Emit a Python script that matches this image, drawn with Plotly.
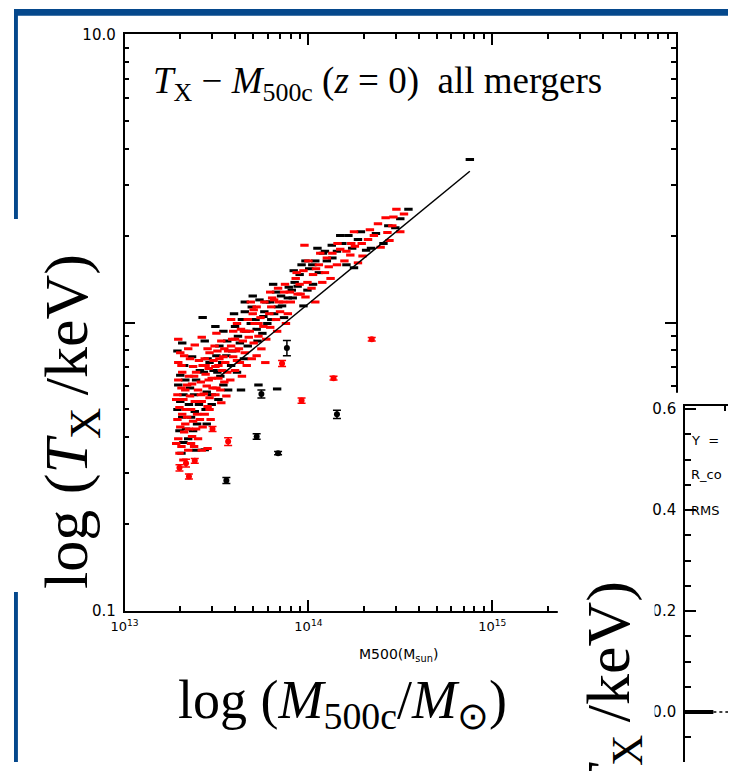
import plotly.graph_objects as go

# ---------------- data (mass in units of 1e13 Msun, temperature in keV) ----------------
red_M = [1.96, 2.01, 1.96, 2.06, 1.96, 2.04, 1.94, 2.09, 1.99, 2.06, 1.94, 2.01, 2.11, 1.96, 2.04, 1.99,
         2.14, 2.16, 2.14, 2.22, 2.41, 2.27, 2.36, 2.24, 2.45, 2.33, 2.51, 2.27, 2.41, 2.30, 2.48, 2.36,
         2.24, 2.45, 2.33, 2.51, 2.30, 2.22, 2.63, 2.83, 2.73, 2.90, 2.66, 2.87, 2.76, 2.98, 2.60, 2.80,
         3.01, 2.70, 2.90, 2.63, 2.83, 2.73, 2.94, 2.66, 2.63, 2.83, 3.16, 3.36, 3.20, 3.49, 3.28, 3.53,
         3.12, 3.40, 3.62, 3.24, 3.49, 3.32, 3.12, 3.58, 3.36, 3.80, 4.09, 3.90, 4.30, 3.99, 4.40, 3.80,
         4.19, 4.51, 3.90, 4.24, 4.62, 3.99, 4.35, 3.76, 4.86, 5.23, 4.98, 5.49, 5.10, 5.69, 4.80, 5.35,
         5.90, 5.04, 5.55, 5.23, 5.83, 4.92, 6.20, 6.84, 6.51, 7.28, 6.28, 7.01, 7.73, 6.67, 7.55, 6.20,
         8.02, 7.37, 6.76, 8.53, 9.40, 8.96, 9.88, 10.6, 8.74, 9.64, 10.4, 10.9, 9.52, 11.4, 12.6, 12.3,
         13.5, 14.3, 14.9, 15.7, 11.9, 13.2, 17.1, 17.9, 18.6, 19.7, 21.1, 22.7, 16.9, 27.6, 30.1, 28.6,
         26.9, 31.6, 24.7,
         1.91, 2.04, 2.11, 2.19, 2.39, 2.54, 2.60, 2.76, 2.87, 3.05, 3.09, 3.24, 3.45, 3.66, 3.85, 4.04,
         4.46, 4.68, 5.04, 5.35, 5.76, 6.13, 6.35, 6.92, 7.46, 7.92, 8.63, 9.07, 10.0, 11.0, 11.6, 12.9,
         14.4, 16.1, 17.7, 19.5, 21.6, 23.9, 26.3, 29.0, 33.1, 2.09, 1.91, 2.19, 2.39, 2.57, 2.90, 3.16,
         4.09, 4.74]
red_T = [0.875, 0.785, 0.726, 0.672, 0.631, 0.593, 0.561, 0.540, 0.507, 0.480, 0.461, 0.434, 0.417, 0.395, 0.371, 0.352,
         0.444, 0.499, 0.583, 0.810, 0.836, 0.749, 0.704, 0.651, 0.672, 0.612, 0.583, 0.556, 0.532, 0.499, 0.480, 0.454,
         0.427, 0.427, 0.402, 0.395, 0.380, 0.360, 0.889, 0.810, 0.749, 0.785, 0.709, 0.693, 0.661, 0.641, 0.621, 0.602,
         0.593, 0.565, 0.548, 0.532, 0.511, 0.480, 0.461, 0.434, 0.360, 0.365, 0.917, 0.862, 0.797, 0.810, 0.749, 0.726,
         0.704, 0.682, 0.672, 0.641, 0.621, 0.583, 0.561, 0.556, 0.527, 1.024, 0.992, 0.932, 0.947, 0.875, 0.862, 0.829,
         0.810, 0.785, 0.761, 0.726, 0.709, 0.682, 0.651, 0.631, 1.178, 1.133, 1.073, 1.040, 0.992, 0.969, 0.932, 0.896,
         0.875, 0.849, 0.810, 0.767, 0.726, 0.749, 1.275, 1.315, 1.198, 1.178, 1.133, 1.090, 1.073, 1.024, 0.992, 0.962,
         1.178, 1.275, 0.932, 1.422, 1.513, 1.357, 1.378, 1.467, 1.255, 1.226, 1.315, 1.178, 1.853, 1.586, 1.675, 1.490,
         1.741, 1.586, 1.796, 1.636, 1.378, 1.422, 1.882, 1.838, 1.611, 1.701, 1.942, 2.004, 1.714, 1.926, 2.473, 2.166,
         2.051, 2.067, 1.824,
         0.540, 0.709, 0.767, 0.607, 0.651, 0.738, 0.561, 0.709, 0.631, 0.738, 0.829, 0.709, 0.761, 0.797, 0.875, 0.797,
         0.932, 1.024, 1.107, 0.992, 1.178, 1.073, 1.217, 1.178, 1.357, 1.275, 1.490, 1.255, 1.636, 1.537, 1.741, 1.561,
         1.882, 1.768, 2.067, 1.882, 2.099, 2.200, 2.308, 2.324, 2.380, 0.333, 0.380, 0.469, 0.371, 0.461, 0.499, 0.593,
         0.738, 0.889]

red_err_M = [22.1, 13.7, 9.18, 7.19, 3.66, 1.99, 2.16, 2.41, 2.24, 3.01]
red_err_T = [0.875, 0.641, 0.536, 0.721, 0.386, 0.313, 0.325, 0.331, 0.292, 0.427]
red_err = [0.012, 0.010, 0.011, 0.017, 0.012, 0.008, 0.010, 0.0065, 0.0057, 0.0083]

black_M = [2.06, 2.01, 1.96, 2.09, 2.01, 1.94, 2.06, 1.99, 2.09, 2.14, 2.33, 2.45, 2.27, 2.39, 2.54, 2.30,
           2.48, 2.36, 2.22, 2.66, 2.73, 2.90, 2.70, 3.05, 2.80, 2.98, 2.76, 2.73, 3.12, 3.45, 3.28, 3.58,
           3.20, 3.45, 3.66, 3.24, 3.94, 4.35, 4.14, 4.57, 3.85, 4.46, 4.09, 4.68, 3.80, 4.30, 4.98, 5.42,
           5.76, 5.16, 4.86, 5.98, 5.29, 5.62, 5.35, 6.43, 7.10, 7.73, 6.20, 6.84, 8.12, 7.37, 6.51, 6.76,
           8.32, 9.18, 10.1, 10.9, 8.74, 9.88, 8.22, 9.40, 10.6, 11.4, 12.6, 14.3, 15.3, 12.0, 16.1, 13.4,
           16.5, 19.3, 20.6, 17.7, 21.9, 25.6, 35.0, 29.7, 75.5,
           1.94, 2.11, 2.24, 2.41, 2.57, 2.83, 2.98, 3.16, 3.40, 3.62, 3.99, 4.24, 4.51, 4.92, 5.23, 5.69,
           5.90, 6.28, 6.67, 7.19, 7.82, 8.42, 8.96, 9.64, 10.5, 11.2, 12.3, 13.5, 14.9, 17.3, 18.6, 23.3,
           27.2, 31.6, 2.16, 2.45, 2.04, 2.80, 3.32, 4.51]
black_T = [0.849, 0.656, 0.607, 0.561, 0.532, 0.499, 0.469, 0.421, 0.383, 0.631, 0.761, 0.631, 0.593, 0.561, 0.519, 0.469,
           0.444, 0.421, 0.395, 1.040, 0.862, 0.726, 0.672, 0.682, 0.574, 0.519, 0.499, 0.362, 0.969, 0.932, 0.829, 0.767,
           0.672, 0.607, 0.583, 0.540, 1.073, 1.024, 0.896, 0.932, 0.797, 0.749, 0.672, 0.829, 0.709, 0.583, 1.236, 1.198,
           1.090, 1.024, 0.992, 0.992, 0.862, 0.917, 0.607, 1.357, 1.236, 1.217, 1.178, 1.133, 1.295, 1.040, 1.073, 0.588,
           1.513, 1.586, 1.537, 1.636, 1.336, 1.295, 1.217, 1.142, 1.357, 1.490, 1.636, 1.768, 1.882, 1.741, 1.586, 1.853,
           2.004, 2.067, 1.782, 1.549, 1.810, 1.882, 2.473, 2.132, 3.68,
           0.797, 0.709, 0.519, 0.491, 0.682, 0.749, 0.561, 0.767, 0.726, 0.862, 0.969, 0.849, 1.090, 1.133, 0.947, 1.049,
           1.178, 1.024, 1.275, 1.142, 1.326, 1.378, 1.467, 1.636, 1.586, 1.810, 1.768, 1.675, 2.004, 1.810, 1.942, 2.035,
           2.166, 2.290, 0.427, 0.360, 0.352, 0.444, 0.651, 1.178]

black_err_M = [7.64, 5.55, 14.3, 5.23, 6.84, 3.58]
black_err_T = [0.816, 0.565, 0.480, 0.402, 0.352, 0.283]
black_err = [0.050, 0.018, 0.016, 0.0088, 0.0047, 0.0067]

fit_M = [3.3, 75.5]
fit_T = [0.65, 3.35]

# tick values / labels
x_major = [1, 10, 100, 1000]
x_labels = ["10<sup>13</sup>", "10<sup>14</sup>", "10<sup>15</sup>", " "]
y_major = [0.1, 1, 10]
y_labels = ["0.1", " ", "10.0"]
x_minor = [k * 10 ** e for e in (0, 1, 2) for k in range(2, 10)]
y_minor = [k * 10 ** e for e in (-1, 0) for k in range(2, 10)]

# inset (second, partly hidden panel)
inset_thick_x = [0.0, 0.66]
inset_thick_y = [0.0, 0.0]
inset_dot_x = [0.66, 1.0]
inset_dot_y = [0.0, 0.0]
inset_y_ticks = [0.0, 0.2, 0.4, 0.6]
inset_y_labels = ["0.0", "0.2", "0.4", "0.6"]

W, H = 730, 771
RED = "#ff0000"
BLUE = "#05488c"
SERIF = "Liberation Serif"
SANS = "DejaVu Sans"


def px(v):
    return v / W


def py(v):
    return (H - v) / H


fig = go.Figure()

dash_marker = dict(symbol="line-ew", size=6)
fig.add_trace(go.Scatter(x=black_M, y=black_T, mode="markers",
                         marker=dict(**dash_marker, line=dict(color="black", width=3)),
                         showlegend=False, hoverinfo="skip"))
fig.add_trace(go.Scatter(x=red_M, y=red_T, mode="markers",
                         marker=dict(**dash_marker, line=dict(color=RED, width=3)),
                         showlegend=False, hoverinfo="skip"))
fig.add_trace(go.Scatter(x=black_err_M, y=black_err_T, mode="markers",
                         marker=dict(size=0, color="black"),
                         error_y=dict(type="data", array=black_err, width=4, thickness=1.5, color="black"),
                         showlegend=False, hoverinfo="skip"))
fig.add_trace(go.Scatter(x=red_err_M, y=red_err_T, mode="markers",
                         marker=dict(size=0, color=RED),
                         error_y=dict(type="data", array=red_err, width=4, thickness=1.5, color=RED),
                         showlegend=False, hoverinfo="skip"))
fig.add_trace(go.Scatter(x=fit_M, y=fit_T, mode="lines", line=dict(color="black", width=1.5),
                         showlegend=False, hoverinfo="skip"))

# cover panel (white) for the overlapping second figure
fig.add_trace(go.Scatter(x=[0.5], y=[0.5], mode="markers", marker=dict(opacity=0),
                         xaxis="x2", yaxis="y2", showlegend=False, hoverinfo="skip"))
# inset panel
fig.add_trace(go.Scatter(x=inset_thick_x, y=inset_thick_y, mode="lines",
                         line=dict(color="black", width=4), xaxis="x3", yaxis="y3",
                         showlegend=False, hoverinfo="skip"))
fig.add_trace(go.Scatter(x=inset_dot_x, y=inset_dot_y, mode="lines",
                         line=dict(color="black", width=1.5, dash="dot"), xaxis="x3", yaxis="y3",
                         showlegend=False, hoverinfo="skip"))

axis_common = dict(showline=True, linecolor="black", linewidth=1.5, showgrid=False, zeroline=False,
                   ticks="inside", tickcolor="black", tickwidth=1.5, ticklen=11)

fig.update_layout(
    width=W, height=H,
    margin=dict(l=0, r=0, t=0, b=0),
    paper_bgcolor="white", plot_bgcolor="white",
    xaxis=dict(**axis_common, type="log", range=[0, 3], domain=[px(113), px(677)], anchor="y",
               mirror="allticks", tickmode="array", tickvals=x_major, ticktext=x_labels,
               ticklabelstandoff=3,
               tickfont=dict(family=SANS, size=13, color="black"),
               minor=dict(ticks="inside", ticklen=5, tickwidth=1.5, tickcolor="black",
                          tickmode="array", tickvals=x_minor, showgrid=False)),
    yaxis=dict(**axis_common, type="log", range=[-1, 1], domain=[py(616), py(26)], anchor="x",
               mirror="allticks", tickmode="array", tickvals=y_major, ticktext=y_labels,
               ticklabelstandoff=4,
               tickfont=dict(family=SANS, size=15, color="black"),
               minor=dict(ticks="inside", ticklen=5, tickwidth=1.5, tickcolor="black",
                          tickmode="array", tickvals=y_minor, showgrid=False)),
    xaxis2=dict(domain=[px(556), 1], range=[0, 1], anchor="y2", visible=False),
    yaxis2=dict(domain=[0, py(393)], range=[0, 1], anchor="x2", visible=False),
    xaxis3=dict(showline=True, linecolor="black", linewidth=1.5, showgrid=False, zeroline=False,
                domain=[px(686), 1], range=[0, 1], anchor="y3", side="top",
                ticks="inside", ticklen=6, tickwidth=1.5, tickcolor="black",
                tickmode="array", tickvals=[0.93], showticklabels=False),
    yaxis3=dict(**axis_common, domain=[0, py(406)], range=[-0.099, 0.607], anchor="x3",
                tickmode="array", tickvals=inset_y_ticks, ticktext=inset_y_labels,
                ticklabelstandoff=4,
                tickfont=dict(family=SANS, size=15, color="black"),
                minor=dict(ticks="inside", ticklen=6, tickwidth=1.5, tickcolor="black",
                           dtick=0.05, tick0=0, showgrid=False)),
)

shapes = [
    dict(type="rect", xref="x2", yref="y2", x0=0, x1=1, y0=0, y1=1, layer="below",
         fillcolor="white", line=dict(width=0)),
    dict(type="rect", xref="paper", yref="paper", x0=0, x1=1, y0=py(7), y1=1, layer="above",
         fillcolor=BLUE, line=dict(width=0)),
    dict(type="rect", xref="paper", yref="paper", x0=0, x1=px(4), y0=0, y1=1, layer="above",
         fillcolor=BLUE, line=dict(width=0)),
    dict(type="rect", xref="paper", yref="paper", x0=0, x1=px(103), y0=py(597), y1=py(215),
         layer="above", fillcolor="white", line=dict(width=0)),
    dict(type="rect", xref="paper", yref="paper", x0=px(566), x1=px(655), y0=0, y1=py(578),
         layer="above", fillcolor="white", line=dict(width=0)),
]
fig.update_layout(shapes=shapes)

ylab = "log (<i>T</i><sub>X</sub>\u2009/keV)"
annotations = [
    dict(text="<i>T</i><sub>X</sub> \u2212 <i>M</i><sub>500c</sub> (<i>z</i> = 0)\u00a0\u00a0all mergers",
         x=px(140), y=py(76), xref="paper", yref="paper", xanchor="left", yanchor="middle",
         showarrow=False, font=dict(family=SERIF, size=37, color="black")),
    dict(text=ylab, textangle=-90, x=px(57), y=py(422), xref="paper", yref="paper",
         xanchor="center", yanchor="middle", showarrow=False,
         font=dict(family=SERIF, size=62, color="black")),
    dict(text="log (<i>M</i><sub>500c</sub>/<i>M</i><sub>\u2299</sub>)", x=px(336), y=py(711),
         xref="paper", yref="paper", xanchor="center", yanchor="middle", showarrow=False,
         font=dict(family=SERIF, size=54, color="black")),
    dict(text="M500(M<sub>sun</sub>)", x=px(393), y=py(661), xref="paper", yref="paper",
         xanchor="center", yanchor="middle", showarrow=False,
         font=dict(family=SANS, size=14, color="black")),
    dict(text=ylab, textangle=-90, x=px(612), y=py(757), xref="paper", yref="paper",
         xanchor="center", yanchor="middle", showarrow=False,
         font=dict(family=SERIF, size=62, color="black")),
    dict(text="Y  =", x=px(690), y=py(442), xref="paper", yref="paper", xanchor="left",
         yanchor="middle", showarrow=False, font=dict(family=SANS, size=13, color="black")),
    dict(text="R_co", x=px(690), y=py(477), xref="paper", yref="paper", xanchor="left",
         yanchor="middle", showarrow=False, font=dict(family=SANS, size=13, color="black")),
    dict(text="RMS", x=px(690), y=py(513), xref="paper", yref="paper", xanchor="left",
         yanchor="middle", showarrow=False, font=dict(family=SANS, size=13, color="black")),
]
fig.update_layout(annotations=annotations)

fig.write_html("out.html", config={"displayModeBar": False},
               post_script="document.body.style.margin='0';document.body.style.overflow='hidden';")
